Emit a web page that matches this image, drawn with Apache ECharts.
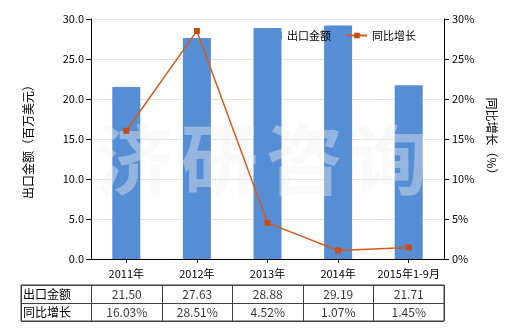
<!DOCTYPE html>
<html>
<head>
<meta charset="utf-8">
<script src="https://cdn.jsdelivr.net/npm/echarts@6/dist/echarts.min.js"></script>
<style>
html,body{margin:0;padding:0;background:#fff;}
#c{width:520px;height:330px;}
</style>
</head>
<body>
<div id="c"></div>
<script>
var categories = ['2011年', '2012年', '2013年', '2014年', '2015年1-9月'];
var exportValues = [21.50, 27.63, 28.88, 29.19, 21.71];
var growthValues = [16.03, 28.51, 4.52, 1.07, 1.45];
var rowNames = ['出口金额', '同比增长'];
var seriesNames = ['出口金额', '同比增长'];
var watermarkChars = ['济', '研', '咨', '询'];

var FONT = '"Noto Sans CJK SC", "DejaVu Sans", sans-serif';
var chart = echarts.init(document.getElementById('c'), null, {renderer: 'canvas'});

var cellData = [];
for (var i = 0; i < categories.length; i++) {
  cellData.push({value: [i + 1, 0], name: exportValues[i].toFixed(2)});
  cellData.push({value: [i + 1, 1], name: growthValues[i].toFixed(2) + '%'});
}

var wm = watermarkChars.map(function (ch, k) {
  return {
    type: 'text', left: 96 + k * 85, top: 121, z: 2, silent: true,
    style: {text: ch, font: 'bold 77px ' + FONT, fill: 'rgba(240,240,240,0.4)'}
  };
});

var option = {
  animation: false,
  backgroundColor: '#fff',
  textStyle: {fontFamily: FONT},
  graphic: wm,
  legend: {
    left: 262,
    top: 30,
    padding: 0,
    itemWidth: 20,
    itemHeight: 7,
    itemGap: 15,
    textStyle: {fontSize: 11, color: '#000', fontFamily: FONT},
    data: [
      {name: seriesNames[0], icon: 'rect'},
      {name: seriesNames[1]}
    ]
  },
  grid: [
    {left: 91, right: 76, top: 19, height: 240},
    {left: 21, right: 76, top: 285, height: 36, show: true, borderColor: '#404040', borderWidth: 1, backgroundColor: 'transparent'}
  ],
  xAxis: [
    {
      type: 'category', gridIndex: 0, data: categories,
      axisLine: {lineStyle: {color: '#000', width: 1}},
      axisTick: {show: true, alignWithLabel: true, length: 4, lineStyle: {color: '#000'}},
      axisLabel: {color: '#000', fontSize: 11, margin: 9, fontFamily: FONT, interval: 0},
      splitLine: {show: false}
    },
    {
      type: 'category', gridIndex: 1, data: [''].concat(categories), position: 'top',
      axisLine: {show: false}, axisTick: {show: false}, axisLabel: {show: false},
      splitLine: {show: true, interval: 0, lineStyle: {color: '#404040', width: 1}}
    }
  ],
  yAxis: [
    {
      type: 'value', gridIndex: 0, min: 0, max: 30, interval: 5,
      name: '出口金额（百万美元）', nameLocation: 'middle', nameGap: 57,
      nameTextStyle: {color: '#000', fontSize: 12, fontFamily: FONT},
      axisLine: {show: true, lineStyle: {color: '#000'}},
      axisTick: {show: true, length: 5, lineStyle: {color: '#000'}},
      axisLabel: {color: '#000', fontSize: 11, margin: 7, formatter: function (v) { return v.toFixed(1); }},
      splitLine: {show: true, lineStyle: {color: '#e6e6dc', width: 1}}
    },
    {
      type: 'value', gridIndex: 0, min: 0, max: 30, interval: 5, position: 'right',
      name: '同比增长（%）', nameLocation: 'middle', nameGap: 39, nameRotate: -90,
      nameTextStyle: {color: '#000', fontSize: 12, fontFamily: FONT},
      axisLine: {show: true, lineStyle: {color: '#000'}},
      axisTick: {show: true, length: 5, lineStyle: {color: '#000'}},
      axisLabel: {color: '#000', fontSize: 11, margin: 8, formatter: function (v) { return v + '%'; }},
      splitLine: {show: false}
    },
    {
      type: 'category', gridIndex: 1, data: rowNames, inverse: true,
      axisLine: {show: false}, axisTick: {show: false},
      axisLabel: {inside: true, margin: 2, color: '#000', fontSize: 12, fontFamily: FONT},
      splitLine: {show: true, interval: 0, lineStyle: {color: '#404040', width: 1}}
    }
  ],
  series: [
    {
      name: seriesNames[0], type: 'bar', xAxisIndex: 0, yAxisIndex: 0,
      data: exportValues, barWidth: 28, z: 1,
      itemStyle: {color: '#558ed5'}
    },
    {
      name: seriesNames[1], type: 'line', xAxisIndex: 0, yAxisIndex: 1,
      data: growthValues, z: 5,
      symbol: 'rect', symbolSize: 6, showSymbol: true,
      lineStyle: {color: '#d45a1c', width: 1.5},
      itemStyle: {color: '#c84c0e'}
    },
    {
      type: 'scatter', xAxisIndex: 1, yAxisIndex: 2, data: cellData,
      symbolSize: 0, silent: true,
      label: {show: true, position: 'inside', formatter: '{b}', color: '#000', fontSize: 12, fontFamily: FONT}
    }
  ]
};
chart.setOption(option);
</script>
</body>
</html>
